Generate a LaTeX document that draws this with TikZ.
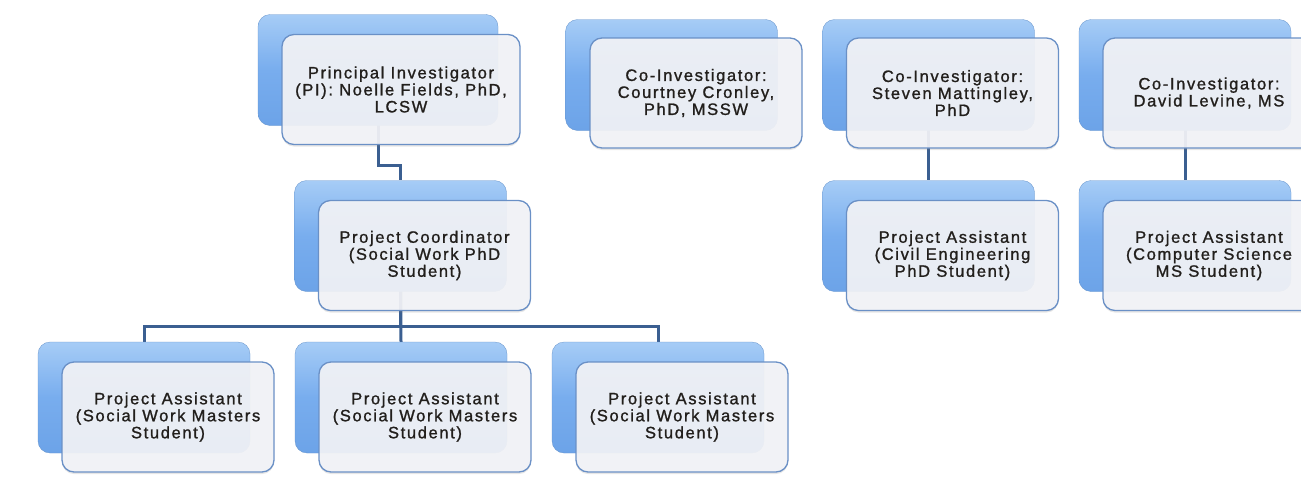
\documentclass[tikz,border=0pt]{standalone}
\usepackage{fontspec}
\setmainfont{Liberation Sans}[LetterSpace=10, FakeBold=1.2]
\usetikzlibrary{positioning,shadows,backgrounds}

\definecolor{boxblue}{HTML}{78ADEE}
\definecolor{boxbluetop}{HTML}{A6CCF6}
\definecolor{boxbluebot}{HTML}{6CA3E8}
\definecolor{cardfill}{HTML}{F2F3F7}
\definecolor{cardedge}{HTML}{6A90C6}
\definecolor{linkblue}{HTML}{3B5F91}
\definecolor{inktext}{HTML}{221F1C}

\tikzset{
  backbox/.style={rounded corners=12pt, minimum width=212pt, minimum height=111pt,
    top color=boxbluetop, bottom color=boxbluebot, middle color=boxblue,
    draw=boxblue!85!black, line width=0.3pt, inner sep=0pt},
  card/.style={rounded corners=12pt, minimum width=212pt, minimum height=110pt,
    fill=cardfill, fill opacity=0.93, text opacity=1, draw=cardedge, line width=1.3pt,
    text=inktext, align=center, inner sep=0pt,
    font=\fontsize{16.5}{17}\selectfont,
    drop shadow={opacity=0.2, shadow xshift=0pt, shadow yshift=-2pt}},
  link/.style={draw=linkblue, line width=3pt},
}

\begin{document}
\begin{tikzpicture}[x=1pt,y=-1pt]
\useasboundingbox (0,0) rectangle (1301,477);
\clip (0,0) rectangle (1301,477);

% principal investigator and coordinator
\node [backbox, minimum width=240pt] (pi-b) at (378,70) {};
\node [card, minimum width=238pt] (pi) at ([shift={(23,19.5)}]pi-b.center) {Principal Investigator\\(PI): Noelle Fields, PhD,\\LCSW};

\node [backbox] (pc-b) at (400.5,236) {};
\node [card] (pc) at ([shift={(24,19.5)}]pc-b.center) {Project Coordinator\\(Social Work PhD\\Student)};

% the three masters students
\node [backbox] (pa1-b) at (144,397.5) {};
\node [card] (pa1) at ([shift={(24,19.5)}]pa1-b.center) {Project Assistant\\(Social Work Masters\\Student)};
\node [backbox] (pa2-b) at (401,397.5) {};
\node [card] (pa2) at ([shift={(24,19.5)}]pa2-b.center) {Project Assistant\\(Social Work Masters\\Student)};
\node [backbox] (pa3-b) at (658,397.5) {};
\node [card] (pa3) at ([shift={(24,19.5)}]pa3-b.center) {Project Assistant\\(Social Work Masters\\Student)};

% co-investigators
\node [backbox] (ci1-b) at (671.5,75) {};
\node [card] (ci1) at ([shift={(24.5,18)}]ci1-b.center) {Co-Investigator:\\Courtney Cronley,\\PhD, MSSW};
\node [backbox] (ci2-b) at (928.5,75) {};
\node [card] (ci2) at ([shift={(24,18)}]ci2-b.center) {Co-Investigator:\\Steven Mattingley,\\PhD};
\node [backbox] (ci3-b) at (1185,75) {};
\node [card] (ci3) at ([shift={(24,18)}]ci3-b.center) {Co-Investigator:\\David Levine, MS};

\node [backbox] (pe-b) at (928.5,236) {};
\node [card] (pe) at ([shift={(24,19.5)}]pe-b.center) {Project Assistant\\(Civil Engineering\\PhD Student)};
\node [backbox] (cs-b) at (1185,236) {};
\node [card] (cs) at ([shift={(24,19.5)}]cs-b.center) {Project Assistant\\(Computer Science\\MS Student)};

% connectors run behind the boxes
\begin{pgfonlayer}{background}
\draw [link] (pi-b.center) -- ++(0,95) -| (pc-b.north);
\draw [link] (pc-b.center) -- ++(0,90) -| (pa1-b.north);
\draw [link] (pc-b.center) -- ++(0,90) -| (pa3-b.north);
\draw [link] (pc-b.center) -- (pa2-b.north);
\draw [link] (ci2-b.center) -- (pe-b.north);
\draw [link] (ci3-b.center) -- (cs-b.north);
\end{pgfonlayer}
\end{tikzpicture}
\end{document}
